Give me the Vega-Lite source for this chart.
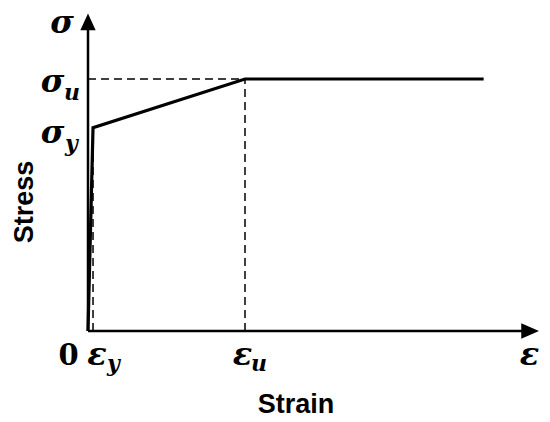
{
  "$schema": "https://vega.github.io/schema/vega-lite/v6.json",
  "width": 550,
  "height": 422,
  "padding": 0,
  "autosize": {"type": "fit", "contains": "padding"},
  "background": "white",
  "config": {"view": {"stroke": null}},
  "datasets": {
    "axes": [
      {"x": 0, "y": 0, "x2": 0.1408, "y2": 0},
      {"x": 0, "y": 0, "x2": 0, "y2": 380}
    ],
    "arrows": [
      {"x": 0, "y": 380, "shape": "M-0.95,1L0,-1.06L0.95,1Z"},
      {"x": 0.1408, "y": 0, "shape": "M-1.1,-0.95L1.1,0L-1.1,0.95Z"}
    ],
    "guides": [
      {"x": 0, "y": 310, "x2": 0.05, "y2": 310},
      {"x": 0.05, "y": 0, "x2": 0.05, "y2": 310},
      {"x": 0.0016, "y": 0, "x2": 0.0016, "y2": 250}
    ],
    "curve": [
      {"x": 0, "y": 0},
      {"x": 0.0016, "y": 250},
      {"x": 0.05, "y": 310},
      {"x": 0.126, "y": 310}
    ],
    "symbols": [
      {"x": -0.00828, "y": 367.2, "t": "σ"},
      {"x": -0.01131, "y": 294.0, "t": "σ"},
      {"x": -0.01131, "y": 231.3, "t": "σ"},
      {"x": 0.00287, "y": -41.8, "t": "ε"},
      {"x": 0.0492, "y": -41.8, "t": "ε"},
      {"x": 0.1406, "y": -41.8, "t": "ε"}
    ],
    "subs": [
      {"x": -0.0051, "y": 284.2, "t": "u"},
      {"x": -0.00525, "y": 221.4, "t": "y"},
      {"x": 0.00812, "y": -49.2, "t": "y"},
      {"x": 0.05446, "y": -49.2, "t": "u"}
    ],
    "zero": [
      {"x": -0.00621, "y": -41.8, "t": "0"}
    ],
    "xtitle": [
      {"x": 0.06624, "y": -100.9, "t": "Strain"}
    ],
    "ytitle": [
      {"x": -0.01752, "y": 158.7, "t": "Stress"}
    ]
  },
  "encoding": {
    "x": {"field": "x", "type": "quantitative", "scale": {"domain": [-0.028025, 0.147134], "nice": false, "zero": false}, "axis": null},
    "y": {"field": "y", "type": "quantitative", "scale": {"domain": [-111.9, 407.2], "nice": false, "zero": false}, "axis": null}
  },
  "layer": [
    {
      "data": {"name": "guides"},
      "mark": {"type": "rule", "color": "black", "strokeWidth": 1.5, "strokeDash": [8, 5]},
      "encoding": {"x2": {"field": "x2"}, "y2": {"field": "y2"}}
    },
    {
      "data": {"name": "axes"},
      "mark": {"type": "rule", "color": "black", "strokeWidth": 2.5},
      "encoding": {"x2": {"field": "x2"}, "y2": {"field": "y2"}}
    },
    {
      "data": {"name": "arrows"},
      "mark": {"type": "point", "filled": true, "color": "black", "size": 260, "opacity": 1, "strokeWidth": 0},
      "encoding": {"shape": {"field": "shape", "type": "nominal", "scale": null, "legend": null}}
    },
    {
      "data": {"name": "curve"},
      "mark": {"type": "line", "color": "black", "strokeWidth": 3.2, "strokeJoin": "miter"},
      "encoding": {}
    },
    {
      "data": {"name": "symbols"},
      "mark": {"type": "text", "font": "DejaVu Serif", "fontSize": 32, "fontWeight": "bold", "fontStyle": "italic", "align": "center", "baseline": "alphabetic", "color": "black"},
      "encoding": {"text": {"field": "t"}}
    },
    {
      "data": {"name": "subs"},
      "mark": {"type": "text", "font": "DejaVu Serif", "fontSize": 22, "fontWeight": "bold", "fontStyle": "italic", "align": "center", "baseline": "alphabetic", "color": "black"},
      "encoding": {"text": {"field": "t"}}
    },
    {
      "data": {"name": "zero"},
      "mark": {"type": "text", "font": "DejaVu Serif", "fontSize": 29, "fontWeight": "bold", "align": "center", "baseline": "alphabetic", "color": "black"},
      "encoding": {"text": {"field": "t"}}
    },
    {
      "data": {"name": "xtitle"},
      "mark": {"type": "text", "font": "Liberation Sans", "fontSize": 27, "fontWeight": "bold", "align": "center", "baseline": "alphabetic", "color": "black"},
      "encoding": {"text": {"field": "t"}}
    },
    {
      "data": {"name": "ytitle"},
      "mark": {"type": "text", "font": "Liberation Sans", "fontSize": 27, "fontWeight": "bold", "align": "center", "baseline": "alphabetic", "angle": 270, "color": "black"},
      "encoding": {"text": {"field": "t"}}
    }
  ]
}
